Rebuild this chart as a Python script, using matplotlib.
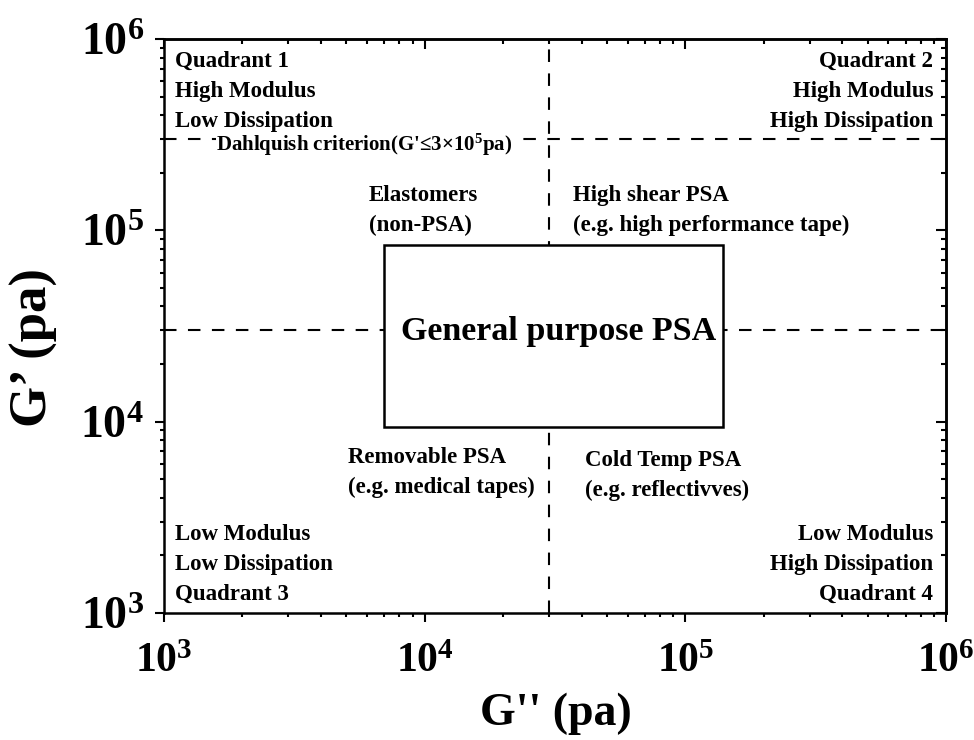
import matplotlib
matplotlib.use('Agg')
import matplotlib.pyplot as plt
from matplotlib.patches import Rectangle

plt.rcParams['font.family'] = 'Liberation Serif'
plt.rcParams['font.weight'] = 'bold'
plt.rcParams['axes.labelweight'] = 'bold'
plt.rcParams['mathtext.fontset'] = 'custom'
plt.rcParams['mathtext.rm'] = 'Liberation Serif:bold'
plt.rcParams['mathtext.it'] = 'Liberation Serif:bold'
plt.rcParams['mathtext.bf'] = 'Liberation Serif:bold'
plt.rcParams['mathtext.default'] = 'bf'

# axis range and decade ticks (Pa)
decades = [1e3, 1e4, 1e5, 1e6]
decade_labels = [r'$10^{3}$', r'$10^{4}$', r'$10^{5}$', r'$10^{6}$']

# window boundaries
g2_split = 3e4              # G'' divider
g1_splits = [3e4, 3e5]      # G' dividers (3e5 = Dahlquist criterion)

# general purpose PSA window
psa_g2 = [7e3, 1.4e5]
psa_g1 = [9.4e3, 8.4e4]

fig = plt.figure(figsize=(9.74, 7.40), dpi=100)
ax = fig.add_axes([0.1684, 0.1716, 0.8029, 0.7757])
ax.set_xscale('log')
ax.set_yscale('log')
ax.set_xlim(decades[0], decades[-1])
ax.set_ylim(decades[0], decades[-1])

dash = (0, (6, 5.5))
ax.axvline(g2_split, color='black', lw=1.5, ls=dash, zorder=2)
for g in g1_splits:
    ax.axhline(g, color='black', lw=1.5, ls=dash, zorder=2)

ax.add_patch(Rectangle((psa_g2[0], psa_g1[0]), psa_g2[1] - psa_g2[0], psa_g1[1] - psa_g1[0],
                       facecolor='white', edgecolor='black', lw=1.8, zorder=3))

ax.text(0.504, 0.4913, 'General purpose PSA', transform=ax.transAxes,
        ha='center', va='center', fontsize=24.5, zorder=4)

fs = 16.5
ls = 1.55
ax.text(0.014, 0.979, 'Quadrant 1\nHigh Modulus\nLow Dissipation', transform=ax.transAxes,
        ha='left', va='top', fontsize=fs, linespacing=ls)
ax.text(0.9834, 0.979, 'Quadrant 2\nHigh Modulus\nHigh Dissipation', transform=ax.transAxes,
        ha='right', va='top', fontsize=fs, linespacing=ls, multialignment='right')
ax.text(0.014, 0.155, 'Low Modulus\nLow Dissipation\nQuadrant 3', transform=ax.transAxes,
        ha='left', va='top', fontsize=fs, linespacing=ls)
ax.text(0.9834, 0.155, 'Low Modulus\nHigh Dissipation\nQuadrant 4', transform=ax.transAxes,
        ha='right', va='top', fontsize=fs, linespacing=ls, multialignment='right')

ax.text(0.262, 0.745, 'Elastomers\n(non-PSA)', transform=ax.transAxes,
        ha='left', va='top', fontsize=fs, linespacing=ls)
ax.text(0.523, 0.745, 'High shear PSA\n(e.g. high performance tape)', transform=ax.transAxes,
        ha='left', va='top', fontsize=fs, linespacing=ls)
ax.text(0.235, 0.289, 'Removable PSA\n(e.g. medical tapes)', transform=ax.transAxes,
        ha='left', va='top', fontsize=fs, linespacing=ls)
ax.text(0.538, 0.284, 'Cold Temp PSA\n(e.g. reflectivves)', transform=ax.transAxes,
        ha='left', va='top', fontsize=fs, linespacing=ls)

ax.text(0.2564, 0.8154, "Dahlquish criterion(G'\u22643\u00d710$^{5}$pa)", transform=ax.transAxes,
        ha='center', va='center', fontsize=15, zorder=4,
        bbox=dict(facecolor='white', edgecolor='none', pad=0))

# bottom/left ticks point out, top/right point in
ax.set_xticks(decades, decade_labels)
ax.set_yticks(decades, decade_labels)
ax.tick_params(which='both', direction='out', width=1.5, top=False, right=False)
ax.tick_params(which='major', length=6.5)
ax.tick_params(which='minor', length=3)
ax.tick_params(axis='x', labelsize=30, pad=15)
ax.tick_params(axis='y', labelsize=33, pad=8)

top = ax.secondary_xaxis('top')
top.tick_params(which='both', direction='in', width=1.5, labeltop=False)
top.tick_params(which='major', length=7)
top.tick_params(which='minor', length=3.5)
right = ax.secondary_yaxis('right')
right.tick_params(which='both', direction='in', width=1.5, labelright=False)
right.tick_params(which='major', length=7)
right.tick_params(which='minor', length=3.5)

for s in list(ax.spines.values()) + [top.spines['top'], right.spines['right']]:
    s.set_linewidth(1.8)

ax.set_xlabel("G'' (pa)", fontsize=33, fontweight='bold')
ax.xaxis.set_label_coords(0.501, -0.138)
ax.set_ylabel('G\u2019 (pa)', fontsize=38, fontweight='bold')
ax.yaxis.set_label_coords(-0.1355, 0.463)

fig.savefig('out.png', dpi=100)
